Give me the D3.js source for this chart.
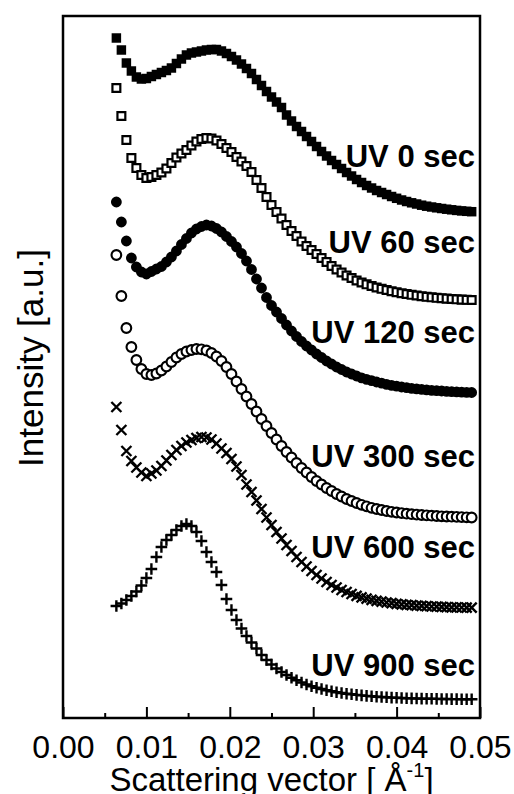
<!DOCTYPE html>
<html>
<head>
<meta charset="utf-8">
<script src="https://cdn.jsdelivr.net/npm/d3@7"></script>
<style>
  body { margin: 0; background: #fff; }
  svg text { font-family: "Liberation Sans", Arial, sans-serif; fill: #000; }
</style>
</head>
<body>
<script>
// scattering vector q [1/A], shared by all curves
var q = [0.0064, 0.0070, 0.0076, 0.0082, 0.0088, 0.0094, 0.0100, 0.0106, 0.0112, 0.0118,
         0.0124, 0.0130, 0.0136, 0.0142, 0.0148, 0.0154, 0.0160, 0.0166, 0.0172, 0.0178,
         0.0184, 0.0190, 0.0196, 0.0202, 0.0208, 0.0214, 0.0220, 0.0226, 0.0232, 0.0238,
         0.0244, 0.0250, 0.0256, 0.0262, 0.0268, 0.0274, 0.0280, 0.0286, 0.0292, 0.0298,
         0.0304, 0.0310, 0.0316, 0.0322, 0.0328, 0.0334, 0.0340, 0.0346, 0.0352, 0.0358,
         0.0364, 0.0370, 0.0376, 0.0382, 0.0388, 0.0394, 0.0400, 0.0406, 0.0412, 0.0418,
         0.0424, 0.0430, 0.0436, 0.0442, 0.0448, 0.0454, 0.0460, 0.0466, 0.0472, 0.0478,
         0.0484, 0.0490];

// intensities (a.u., curves already stacked with offsets)
var uv0 = [68.00, 66.80, 65.50, 64.70, 64.10, 63.90, 63.95, 64.15, 64.35, 64.55,
           64.75, 65.00, 65.45, 65.90, 66.30, 66.50, 66.60, 66.70, 66.80, 66.85,
           66.85, 66.70, 66.45, 66.15, 65.80, 65.40, 64.95, 64.45, 63.85, 63.25,
           62.65, 62.10, 61.60, 61.05, 60.30, 59.70, 59.15, 58.65, 58.15, 57.65,
           57.15, 56.65, 56.20, 55.75, 55.35, 54.95, 54.55, 54.20, 53.85, 53.55,
           53.25, 53.00, 52.75, 52.55, 52.35, 52.15, 51.97, 51.80, 51.65, 51.52,
           51.40, 51.28, 51.18, 51.10, 51.02, 50.95, 50.88, 50.82, 50.76, 50.71,
           50.67, 50.63];
var uv60 = [63.00, 60.20, 57.80, 56.00, 55.00, 54.30, 54.00, 54.10, 54.30, 54.55,
            54.95, 55.50, 56.05, 56.45, 56.80, 57.25, 57.65, 57.90, 58.00, 57.95,
            57.75, 57.40, 57.00, 56.60, 56.10, 55.65, 55.20, 54.60, 53.80, 53.00,
            52.10, 51.30, 50.60, 49.95, 49.30, 48.70, 48.20, 47.65, 47.20, 46.80,
            46.40, 46.00, 45.60, 45.20, 44.85, 44.55, 44.25, 44.00, 43.75, 43.55,
            43.37, 43.20, 43.05, 42.92, 42.80, 42.68, 42.58, 42.48, 42.40, 42.32,
            42.25, 42.18, 42.12, 42.07, 42.02, 41.98, 41.94, 41.90, 41.87, 41.84,
            41.82, 41.80];
var uv120 = [51.60, 49.60, 47.70, 46.00, 45.10, 44.60, 44.40, 44.65, 44.90, 45.15,
             45.60, 46.10, 46.70, 47.35, 47.95, 48.50, 48.90, 49.15, 49.30, 49.20,
             48.95, 48.60, 48.15, 47.65, 47.10, 46.45, 45.70, 44.85, 43.90, 43.00,
             42.05, 41.25, 40.60, 39.95, 39.30, 38.70, 38.15, 37.65, 37.20, 36.80,
             36.40, 36.05, 35.70, 35.40, 35.10, 34.85, 34.60, 34.40, 34.20, 34.02,
             33.87, 33.73, 33.60, 33.48, 33.37, 33.27, 33.18, 33.10, 33.03, 32.97,
             32.91, 32.86, 32.81, 32.77, 32.73, 32.70, 32.67, 32.64, 32.61, 32.59,
             32.57, 32.55];
var uv300 = [46.30, 42.20, 39.00, 37.10, 35.80, 34.90, 34.40, 34.30, 34.45, 34.75,
             35.15, 35.60, 36.05, 36.40, 36.65, 36.80, 36.90, 36.87, 36.75, 36.50,
             36.15, 35.70, 35.10, 34.40, 33.65, 32.90, 32.15, 31.40, 30.65, 29.90,
             29.20, 28.50, 27.85, 27.20, 26.60, 26.05, 25.50, 25.00, 24.55, 24.10,
             23.70, 23.35, 23.00, 22.70, 22.40, 22.15, 21.90, 21.70, 21.50, 21.32,
             21.16, 21.02, 20.90, 20.80, 20.70, 20.62, 20.55, 20.49, 20.43, 20.38,
             20.34, 20.30, 20.26, 20.23, 20.20, 20.17, 20.15, 20.13, 20.11, 20.09,
             20.07, 20.05];
var uv600 = [31.10, 28.80, 26.70, 25.70, 25.05, 24.55, 24.20, 24.45, 24.75, 25.20,
             25.75, 26.30, 26.80, 27.20, 27.55, 27.80, 28.00, 28.10, 28.05, 27.85,
             27.45, 26.95, 26.50, 25.90, 25.15, 24.30, 23.35, 22.60, 21.75, 20.90,
             20.05, 19.30, 18.60, 17.95, 17.30, 16.70, 16.10, 15.60, 15.15, 14.70,
             14.30, 13.95, 13.60, 13.30, 13.05, 12.80, 12.60, 12.40, 12.22, 12.07,
             11.94, 11.82, 11.72, 11.63, 11.55, 11.48, 11.42, 11.37, 11.32, 11.28,
             11.24, 11.21, 11.18, 11.15, 11.13, 11.11, 11.09, 11.07, 11.06, 11.05,
             11.04, 11.03];
var uv900 = [11.20, 11.45, 11.80, 12.20, 12.65, 13.25, 14.00, 14.90, 16.10, 17.10,
             17.80, 18.30, 18.80, 19.20, 19.40, 19.20, 18.60, 17.70, 16.60, 15.60,
             14.60, 13.30, 11.90, 10.80, 9.80, 8.95, 8.20, 7.55, 6.95, 6.30,
             5.80, 5.35, 4.95, 4.60, 4.30, 4.02, 3.77, 3.55, 3.35, 3.18,
             3.03, 2.90, 2.78, 2.67, 2.58, 2.50, 2.43, 2.37, 2.31, 2.26,
             2.21, 2.17, 2.13, 2.10, 2.07, 2.04, 2.02, 2.00, 1.98, 1.96,
             1.95, 1.94, 1.93, 1.92, 1.91, 1.90, 1.90, 1.89, 1.89, 1.88,
             1.88, 1.87];

var seriesNames = ["UV 0 sec", "UV 60 sec", "UV 120 sec", "UV 300 sec", "UV 600 sec", "UV 900 sec"];
var seriesValues = [uv0, uv60, uv120, uv300, uv600, uv900];
var markerKinds = ["squareFilled", "squareOpen", "circleFilled", "circleOpen", "times", "plus"];
// intensity level where each series label sits
var labelLevels = [55.15, 46.5, 37.5, 25.1, 16.0, 4.2];

var majorTicks = [0.00, 0.01, 0.02, 0.03, 0.04, 0.05];
var minorTicks = [0.005, 0.015, 0.025, 0.035, 0.045];

window.onload = function() {

  var width = 514,
      height = 794,
      left = 63, right = 480, top = 16, bottom = 718;

  var svg = d3.select("body").append("svg")
      .attr("width", width)
      .attr("height", height);

  var x = d3.scaleLinear().domain([0, 0.05]).range([left, right]);
  var y = d3.scaleLinear().domain([0, 70.2]).range([bottom, top]);

  // custom stroke markers, size = half width in px
  var timesType = { draw: function(c, s) { c.moveTo(-s, -s); c.lineTo(s, s); c.moveTo(-s, s); c.lineTo(s, -s); } };
  var plusType = { draw: function(c, s) { c.moveTo(-s, 0); c.lineTo(s, 0); c.moveTo(0, -s); c.lineTo(0, s); } };

  var markers = {
    squareFilled: { path: d3.symbol(d3.symbolSquare, 90)(), fill: "#000", stroke: "none", sw: 0 },
    squareOpen:   { path: d3.symbol(d3.symbolSquare, 62)(), fill: "#fff", stroke: "#000", sw: 2.2 },
    circleFilled: { path: d3.symbol(d3.symbolCircle, 92)(), fill: "#000", stroke: "none", sw: 0 },
    circleOpen:   { path: d3.symbol(d3.symbolCircle, 74)(), fill: "#fff", stroke: "#000", sw: 2.1 },
    times:        { path: d3.symbol(timesType, 5)(), fill: "none", stroke: "#000", sw: 2.4 },
    plus:         { path: d3.symbol(plusType, 5.8)(), fill: "none", stroke: "#000", sw: 2.4 }
  };

  // minor ticks
  svg.append("g")
      .attr("transform", "translate(0," + bottom + ")")
      .call(d3.axisBottom(x).tickValues(minorTicks).tickSizeInner(-5).tickSizeOuter(0).tickFormat(""))
      .call(function(g) { g.select(".domain").remove(); })
      .selectAll("line").attr("stroke", "#000").attr("stroke-width", 2);

  // major ticks + labels
  var xAxis = svg.append("g")
      .attr("transform", "translate(0," + bottom + ")")
      .call(d3.axisBottom(x).tickValues(majorTicks).tickSizeInner(-11).tickSizeOuter(0)
            .tickFormat(d3.format(".2f")));
  xAxis.select(".domain").remove();
  xAxis.selectAll("line").attr("stroke", "#000").attr("stroke-width", 2);
  xAxis.selectAll("text")
      .attr("y", 40)
      .attr("dy", null)
      .attr("font-size", "32px")
      .attr("font-family", "Liberation Sans, Arial, sans-serif")
      .attr("fill", "#000");

  // series
  seriesValues.forEach(function(vals, i) {
    var m = markers[markerKinds[i]];
    svg.append("g")
        .attr("class", "series")
        .selectAll("path")
        .data(q.map(function(d, j) { return [d, vals[j]]; }))
        .enter().append("path")
        .attr("d", m.path)
        .attr("transform", function(d) { return "translate(" + x(d[0]) + "," + y(d[1]) + ")"; })
        .attr("fill", m.fill)
        .attr("stroke", m.stroke)
        .attr("stroke-width", m.sw);
  });

  // frame
  svg.append("rect")
      .attr("x", left)
      .attr("y", top)
      .attr("width", right - left)
      .attr("height", bottom - top)
      .attr("fill", "none")
      .attr("stroke", "#000")
      .attr("stroke-width", 2.5);

  // series labels
  svg.selectAll(".lab")
      .data(seriesNames)
      .enter().append("text")
      .attr("class", "lab")
      .attr("x", 475)
      .attr("y", function(d, i) { return y(labelLevels[i]); })
      .attr("text-anchor", "end")
      .attr("font-size", "31px")
      .attr("font-weight", "bold")
      .text(function(d) { return d; });

  // axis titles
  var xt = svg.append("text")
      .attr("x", (left + right) / 2)
      .attr("y", 791)
      .attr("text-anchor", "middle")
      .attr("font-size", "33px");
  xt.append("tspan").text("Scattering vector [ Å");
  xt.append("tspan").attr("font-size", "20px").attr("dy", -14).text("-1");
  xt.append("tspan").attr("dy", 14).text("]");

  svg.append("text")
      .attr("transform", "translate(43,358) rotate(-90)")
      .attr("text-anchor", "middle")
      .attr("font-size", "35px")
      .text("Intensity [a.u.]");
};
</script>
</body>
</html>
